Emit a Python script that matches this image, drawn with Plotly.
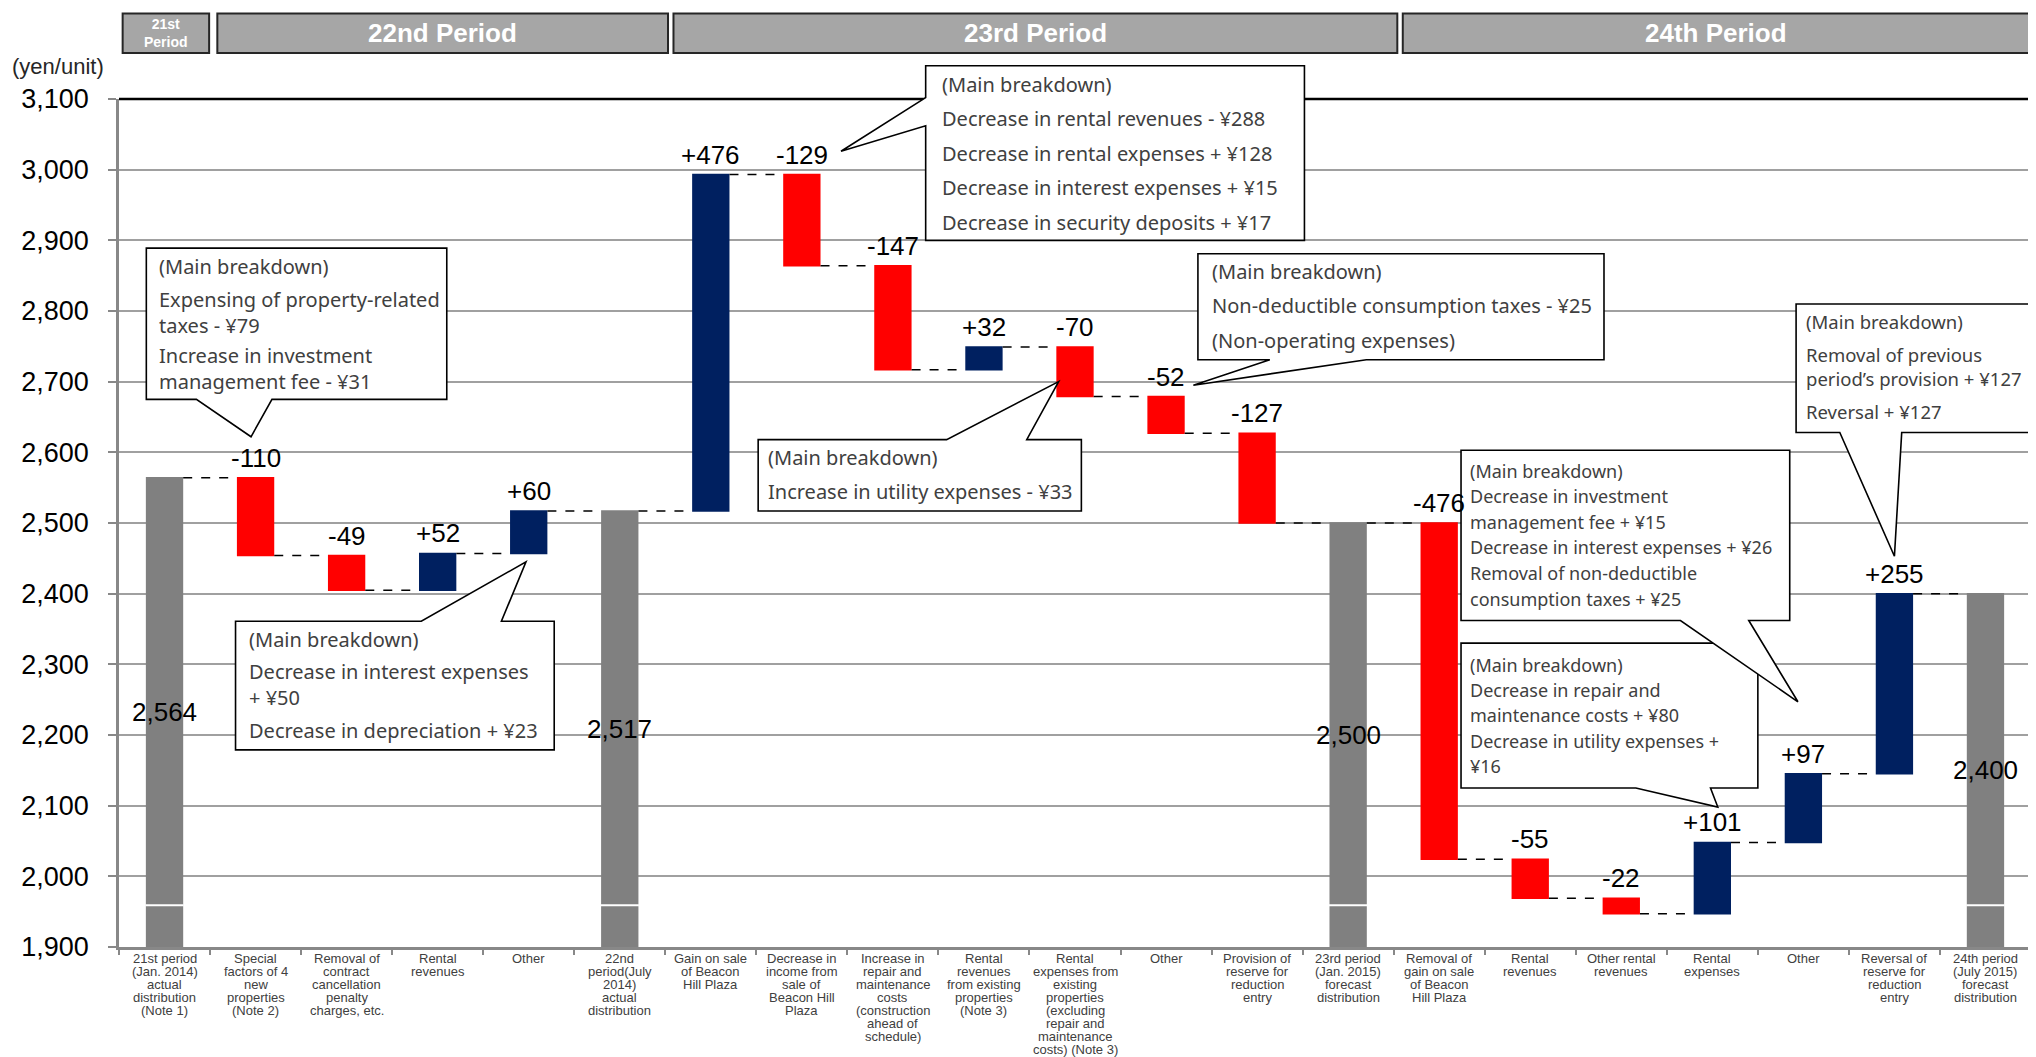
import plotly.graph_objects as go

# ---- data ----
categories = [
    "21st period\n(Jan. 2014)\nactual\ndistribution\n(Note 1)",
    "Special\nfactors of 4\nnew\nproperties\n(Note 2)",
    "Removal of\ncontract\ncancellation\npenalty\ncharges, etc.",
    "Rental\nrevenues",
    "Other",
    "22nd\nperiod(July\n2014)\nactual\ndistribution",
    "Gain on sale\nof Beacon\nHill Plaza",
    "Decrease in\nincome from\nsale of\nBeacon Hill\nPlaza",
    "Increase in\nrepair and\nmaintenance\ncosts\n(construction\nahead of\nschedule)",
    "Rental\nrevenues\nfrom existing\nproperties\n(Note 3)",
    "Rental\nexpenses from\nexisting\nproperties\n(excluding\nrepair and\nmaintenance\ncosts) (Note 3)",
    "Other",
    "Provision of\nreserve for\nreduction\nentry",
    "23rd period\n(Jan. 2015)\nforecast\ndistribution",
    "Removal of\ngain on sale\nof Beacon\nHill Plaza",
    "Rental\nrevenues",
    "Other rental\nrevenues",
    "Rental\nexpenses",
    "Other",
    "Reversal of\nreserve for\nreduction\nentry",
    "24th period\n(July 2015)\nforecast\ndistribution",
]
measures = ["absolute", "relative", "relative", "relative", "relative", "total",
            "relative", "relative", "relative", "relative", "relative", "relative", "relative", "total",
            "relative", "relative", "relative", "relative", "relative", "relative", "total"]
values = [2564, -110, -49, 52, 60, 2517,
          476, -129, -147, 32, -70, -52, -127, 2500,
          -476, -55, -22, 101, 97, 255, 2400]
y_ticks = list(range(1900, 3101, 100))

periods = ["21st<br>Period", "22nd Period", "23rd Period", "24th Period"]
period_spans = [(-0.46, 0.49), (0.58, 5.53), (5.59, 13.54), (13.60, 20.49)]

# callout bubbles: box (x0, x1, ybottom, ytop), pointer side, pointer base, tip, text lines
callouts = [
    dict(box=(-0.20, 3.10, 2675, 2889), side="bottom", base=(0.35, 1.18), tip=(0.95, 2622), pad=11, size=20,
         lines=[("(Main breakdown)", 18), ("Expensing of property-related<br>taxes - ¥79", 64),
                ("Increase in investment<br>management fee - ¥31", 120)]),
    dict(box=(0.78, 4.28, 2179, 2361), side="top", base=(2.82, 3.70), tip=(3.97, 2445), pad=11, size=20,
         lines=[("(Main breakdown)", 18), ("Decrease in interest expenses<br>+ ¥50", 63),
                ("Decrease in depreciation + ¥23", 109)]),
    dict(box=(8.36, 12.52, 2900, 3147), side="left", base=(3062, 3102), tip=(7.43, 3026), pad=14, size=20,
         lines=[("(Main breakdown)", 19), ("Decrease in rental revenues - ¥288", 53),
                ("Decrease in rental expenses + ¥128", 88), ("Decrease in interest expenses + ¥15", 122),
                ("Decrease in security deposits + ¥17", 157)]),
    dict(box=(6.52, 10.07, 2517, 2618), side="top", base=(8.59, 9.47), tip=(9.82, 2700), pad=8, size=20,
         lines=[("(Main breakdown)", 18), ("Increase in utility expenses - ¥33", 52)]),
    dict(box=(11.35, 15.81, 2731, 2881), side="bottom", base=(12.14, 13.20), tip=(11.30, 2695), pad=12, size=20,
         lines=[("(Main breakdown)", 18), ("Non-deductible consumption taxes - ¥25", 52),
                ("(Non-operating expenses)", 87)]),
    dict(box=(17.92, 21.6, 2628, 2810), side="bottom", base=(18.40, 19.08), tip=(19.0, 2453), pad=8, size=18.5,
         lines=[("(Main breakdown)", 18), ("Removal of previous<br>period’s provision + ¥127", 63),
                ("Reversal + ¥127", 108)]),
    dict(box=(14.24, 17.50, 2125, 2330), side="bottom", base=(16.16, 16.98), tip=(17.06, 2098), pad=7, size=18,
         lines=[("(Main breakdown)", 22), ("Decrease in repair and", 47), ("maintenance costs + ¥80", 72),
                ("Decrease in utility expenses +", 98), ("¥16", 123)]),
    dict(box=(14.24, 17.85, 2362, 2603), side="bottom", base=(16.65, 17.40), tip=(17.94, 2247), pad=7, size=18,
         lines=[("(Main breakdown)", 21), ("Decrease in investment", 46), ("management fee + ¥15", 72),
                ("Decrease in interest expenses + ¥26", 97), ("Removal of non-deductible", 123),
                ("consumption taxes + ¥25", 149)]),
]

NAVY = "#002060"
RED = "#FF0000"
GREY = "#808080"
YMIN, YMAX = 1900, 3100
n = len(categories)
xs = list(range(n))


def px(x):
    return (x + 0.5) / n


def py(y):
    return (y - YMIN) / (YMAX - YMIN)


fig = go.Figure(go.Waterfall(
    x=xs, y=values, measure=measures,
    increasing=dict(marker=dict(color=NAVY)),
    decreasing=dict(marker=dict(color=RED)),
    totals=dict(marker=dict(color=GREY)),
    connector=dict(mode="between", line=dict(color="black", width=1.5, dash="dash")),
    textposition="none", hoverinfo="skip", showlegend=False,
))

shapes = []
annotations = []

# value labels
level = 0
for i, (m, v) in enumerate(zip(measures, values)):
    if m == "relative":
        top = max(level, level + v)
        level += v
        annotations.append(dict(x=i, y=top, xref="x", yref="y", text=f"{v:+d}", showarrow=False,
                                xanchor="center", yanchor="bottom", yshift=3,
                                font=dict(size=26, color="black")))
    else:
        level = v
        annotations.append(dict(x=i, y=(YMIN + v) / 2, xref="x", yref="y", text=f"{v:,}",
                                showarrow=False, xanchor="center", yanchor="middle",
                                font=dict(size=26, color="black")))
        # axis break mark on the total bars
        shapes.append(dict(type="line", xref="x", yref="y", x0=i - 0.21, x1=i + 0.21, y0=1959, y1=1959,
                           line=dict(color="white", width=2), layer="above"))

# category labels, one line each
for i, lab in enumerate(categories):
    for k, line in enumerate(lab.split("\n")):
        annotations.append(dict(x=i, y=0, xref="x", yref="paper", text=line, showarrow=False,
                                xanchor="center", yanchor="middle", yshift=-11 - 13.1 * k, borderpad=0,
                                font=dict(size=13, color="#404040", family="Liberation Sans, Arial")))

# period headers
for name, (a, b) in zip(periods, period_spans):
    shapes.append(dict(type="rect", xref="paper", yref="paper", x0=px(a), x1=px(b),
                       y0=py(3165), y1=py(3221), fillcolor="#A6A6A6",
                       line=dict(color="#262626", width=2), layer="above"))
    small = "<br>" in name
    annotations.append(dict(x=px((a + b) / 2), y=py(3193), xref="paper", yref="paper",
                            text=f"<b>{name}</b>", showarrow=False, xanchor="center", yanchor="middle",
                            font=dict(size=14 if small else 26, color="white",
                                      family="Liberation Sans, Arial")))

# plot frame (top and right in black)
shapes.append(dict(type="line", xref="paper", yref="paper", x0=0, x1=1, y0=1, y1=1,
                   line=dict(color="black", width=2.5)))
shapes.append(dict(type="line", xref="paper", yref="paper", x0=1, x1=1, y0=0, y1=1,
                   line=dict(color="black", width=1.5)))


def bubble(c):
    x0, x1, yb, yt = c["box"]
    b0, b1 = c["base"]
    tip = c["tip"]
    if c["side"] == "top":
        pts = [(x0, yt), (b0, yt), tip, (b1, yt), (x1, yt), (x1, yb), (x0, yb)]
    elif c["side"] == "bottom":
        pts = [(x0, yt), (x1, yt), (x1, yb), (b1, yb), tip, (b0, yb), (x0, yb)]
    else:
        pts = [(x0, yt), (x1, yt), (x1, yb), (x0, yb), (x0, b0), tip, (x0, b1)]
    path = "M " + " L ".join(f"{px(x):.5f},{py(y):.5f}" for x, y in pts) + " Z"
    return dict(type="path", xref="paper", yref="paper", path=path, fillcolor="white",
                line=dict(color="black", width=1.6), layer="above")


for c in callouts:
    shapes.append(bubble(c))
    for text, off in c["lines"]:
        annotations.append(dict(x=px(c["box"][0]), y=py(c["box"][3]), xref="paper", yref="paper",
                                text=text, showarrow=False, xanchor="left", yanchor="middle", align="left",
                                xshift=c["pad"], yshift=-off,
                                font=dict(size=c["size"], color="#404040", family="Noto Sans, Arial")))

annotations.append(dict(x=0, y=1, xref="paper", yref="paper", text="(yen/unit)", showarrow=False,
                        xanchor="right", yanchor="middle", xshift=-13, yshift=33,
                        font=dict(size=22, color="#262626")))

# the page body adds an 8px offset, so the figure is 8px smaller than the window
fig.update_layout(
    width=2028, height=1049,
    margin=dict(l=111, r=5, t=91, b=110),
    plot_bgcolor="white", paper_bgcolor="white",
    font=dict(family="Liberation Sans, Arial", color="black"),
    waterfallgap=0.59,
    shapes=shapes, annotations=annotations,
)
fig.update_xaxes(range=[-0.5, n - 0.5], tickvals=[i - 0.5 for i in range(n + 1)], showticklabels=False,
                 ticks="outside", ticklen=5, tickcolor="#888888", tickwidth=1.5,
                 showline=True, linecolor="#888888", linewidth=3, showgrid=False, zeroline=False)
fig.update_yaxes(range=[YMIN, YMAX], tickvals=y_ticks, ticktext=[f"{t:,}" for t in y_ticks],
                 tickfont=dict(size=27, color="black"), ticks="outside", ticklen=8,
                 tickcolor="#888888", tickwidth=2, ticklabelstandoff=14,
                 showline=True, linecolor="#888888", linewidth=2.5,
                 showgrid=True, gridcolor="#A0A0A0", gridwidth=1.5, zeroline=False)

fig.write_html("out.html")
